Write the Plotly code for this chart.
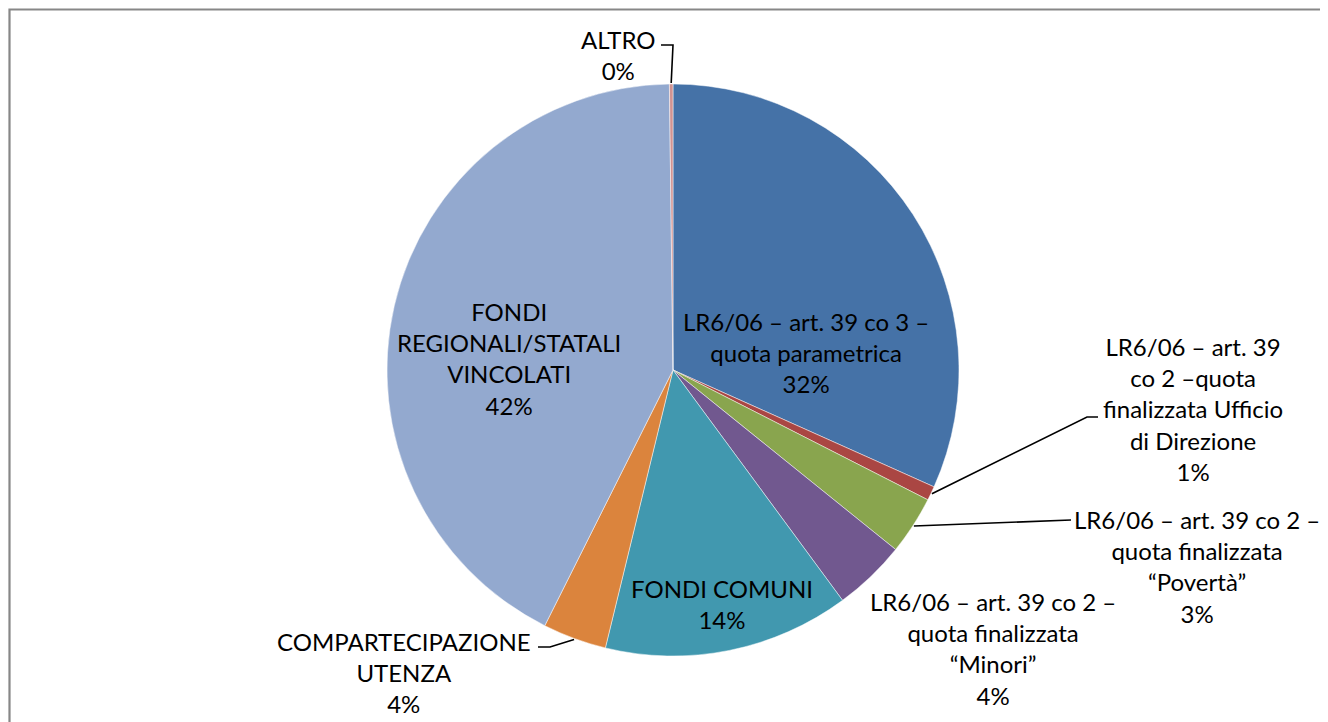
import math
import plotly.graph_objects as go

# ---- data ----
categories = [
    "LR6/06 – art. 39 co 3 –<br>quota parametrica",
    "LR6/06 – art. 39<br>co 2 –quota<br>finalizzata Ufficio<br>di Direzione",
    "LR6/06 – art. 39 co 2 –<br>quota finalizzata<br>“Povertà”",
    "LR6/06 – art. 39 co 2 –<br>quota finalizzata<br>“Minori”",
    "FONDI COMUNI",
    "COMPARTECIPAZIONE<br>UTENZA",
    "FONDI<br>REGIONALI/STATALI<br>VINCOLATI",
    "ALTRO",
]
values = [31.7, 0.8, 3.3, 4.1, 13.9, 3.6, 42.4, 0.2]
colors = ["#4572A7", "#AA4643", "#89A54E", "#71588F", "#4198AF",
          "#DB843D", "#93A9CF", "#D19392"]

# ---- layout geometry (page pixels) ----
OFF = 8                      # default page margin around the plot
W, H = 1328 - OFF, 722 - OFF
CX, CY, R = 673, 370, 286

# label centres (px) and leader elbows (px, None = no leader)
label_pos = [(806, 352), (1193, 409), (1197, 566), (993, 648),
             (722, 604), (404, 672), (509, 358), (618, 55)]
leader_elbows = [None, [(1087, 417), (1098, 417)], [(1071, 520)], None,
                 None, [(550, 647), (538, 647)], None, [(673, 45), (661, 45)]]

total = sum(values)
pcts = [v / total * 100 for v in values]

def px(x):
    return (x - OFF) / W

def py(y):
    return 1 - (y - OFF) / H

fig = go.Figure(go.Pie(
    labels=[c.replace("<br>", " ") for c in categories],
    values=values,
    sort=False,
    direction="clockwise",
    rotation=0,
    marker=dict(colors=colors, line=dict(color="rgba(255,255,255,0.6)", width=0.8)),
    textinfo="none",
    hoverinfo="label+percent",
    showlegend=False,
    domain=dict(x=[px(CX - R), px(CX + R)], y=[py(CY + R), py(CY - R)]),
))

font = dict(family="Lato, 'Open Sans', sans-serif", size=24, color="#000000")
annotations = []
shapes = []
cum = 0.0
for i, (cat, v) in enumerate(zip(categories, values)):
    mid = (cum + v / 2) / total * 2 * math.pi
    cum += v
    lx, ly = label_pos[i]
    annotations.append(dict(
        x=px(lx), y=py(ly), xref="paper", yref="paper",
        text=f"{cat}<br>{round(pcts[i])}%", showarrow=False,
        align="center", xanchor="center", yanchor="middle", font=font,
    ))
    if leader_elbows[i]:
        ex = CX + (R + 1) * math.sin(mid)
        ey = CY - (R + 1) * math.cos(mid)
        pts = [(ex, ey)] + leader_elbows[i]
        path = "M " + " L ".join(f"{px(a)},{py(b)}" for a, b in pts)
        shapes.append(dict(type="path", path=path, xref="paper", yref="paper",
                           line=dict(color="#000000", width=1.6)))

# outer chart border (extends past right/bottom of the view)
shapes.append(dict(type="rect", xref="paper", yref="paper",
                   x0=px(9.5), x1=1.05, y0=-0.05, y1=py(9.5),
                   line=dict(color="#878787", width=2.2), fillcolor="rgba(0,0,0,0)"))

fig.update_layout(
    width=W, height=H,
    margin=dict(l=0, r=0, t=0, b=0),
    paper_bgcolor="white", plot_bgcolor="white",
    annotations=annotations, shapes=shapes,
)

fig.write_html("out.html")
